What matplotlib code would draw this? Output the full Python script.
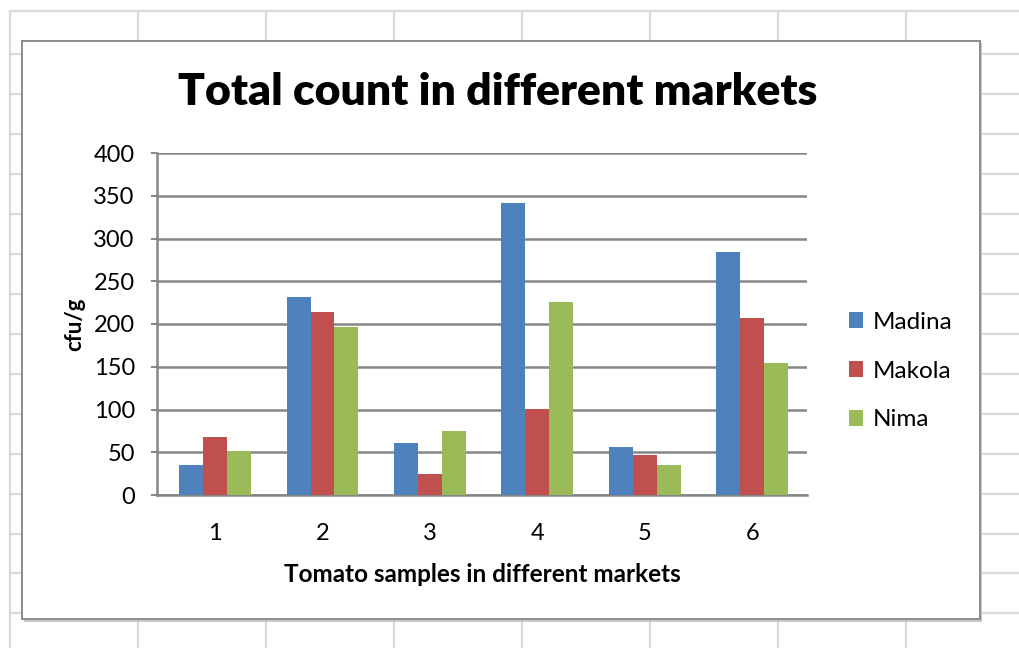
import numpy as np
import matplotlib
matplotlib.use('Agg')
import matplotlib.pyplot as plt
from matplotlib.patches import Rectangle, Patch

plt.rcParams['font.family'] = ['Lato', 'DejaVu Sans']

samples = ['1', '2', '3', '4', '5', '6']
markets = ['Madina', 'Makola', 'Nima']
madina = [35, 231, 61, 342, 56, 284]
makola = [68, 214, 24, 101, 47, 207]
nima = [51, 196, 75, 226, 35, 154]
colors = ['#4F81BD', '#C0504D', '#9BBB59']

W, H = 1019, 648
fig = plt.figure(figsize=(W / 100, H / 100), dpi=100)
fig.patch.set_facecolor('white')

# worksheet cells behind the chart, in pixel units
bg = fig.add_axes([0, 0, 1, 1])
bg.set_xlim(0, W)
bg.set_ylim(H, 0)
bg.axis('off')
for x in [10, 138, 266, 394, 522, 650, 778, 906]:
    bg.plot([x, x], [11, H], color='#DADADA', lw=1.6, zorder=1)
for y in [11, 54, 94, 134, 174, 214, 254, 294, 334, 374, 414, 454, 494, 534, 573, 613]:
    bg.plot([10, W], [y, y], color='#DADADA', lw=1.6, zorder=1)

# chart area with soft shadow
bg.add_patch(Rectangle((24, 43), 958, 579, facecolor='#C8C8C8', edgecolor='none', zorder=2))
bg.add_patch(Rectangle((22, 41), 958, 578, facecolor='white', edgecolor='#8C8C8C',
                       lw=1.4, zorder=3))

ax = fig.add_axes([157 / W, (H - 495) / H, (807 - 157) / W, (495 - 153) / H])
ax.patch.set_alpha(0)
x = np.arange(1, len(samples) + 1)
w = 0.2225
for i, (vals, name) in enumerate(zip([madina, makola, nima], markets)):
    ax.bar(x + (i - 1) * w, vals, width=w, color=colors[i], label=name, zorder=3,
           edgecolor='none')

ax.set_xlim(0.46, 6.51)
ax.set_ylim(0, 400)
ax.set_yticks(np.arange(0, 401, 50))
ax.set_xticks(x)
ax.set_xticklabels(samples)
ax.yaxis.grid(True, color='#868686', lw=1.8, zorder=1)
ax.set_axisbelow(True)
for side in ['top', 'right']:
    ax.spines[side].set_visible(False)
for side in ['left', 'bottom']:
    ax.spines[side].set_color('#868686')
    ax.spines[side].set_linewidth(1.8)
ax.tick_params(axis='y', length=4, width=1.4, color='#868686', pad=12, labelsize=17)
ax.tick_params(axis='x', length=0, pad=20, labelsize=17)

ax.set_ylabel('cfu/g', fontsize=16, fontweight='bold', labelpad=6)
ax.set_xlabel('Tomato samples in different markets', fontsize=17.5, fontweight='bold',
              labelpad=14)

fig.text(498 / W, 1 - 92 / H, 'Total count in different markets', fontsize=32,
         fontweight='heavy', ha='center', va='center')

handles = [Patch(facecolor=c, label=m) for c, m in zip(colors, markets)]
fig.legend(handles=handles, loc='center left', bbox_to_anchor=(827 / W, 1 - 371 / H),
           frameon=False, fontsize=17.5, handlelength=0.6, handleheight=0.6,
           handletextpad=0.4, labelspacing=1.15)

fig.savefig('out.png', dpi=100)
